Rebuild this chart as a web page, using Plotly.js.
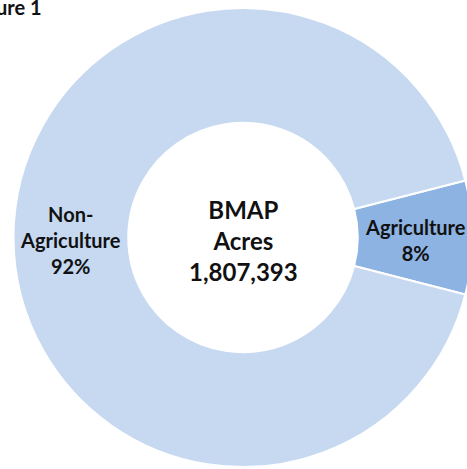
<!DOCTYPE html>
<html>
<head>
<meta charset="utf-8">
<script src="https://cdn.plot.ly/plotly-3.0.1.min.js"></script>
<style>
html, body { margin: 0; padding: 0; overflow: hidden; background: #fff; }
#chart { width: 480px; height: 469px; }
</style>
</head>
<body>
<div id="chart"></div>
<script>
// Data
const categories = ['Agriculture', 'Non-Agriculture'];
const sliceTexts = ['Agriculture', 'Non-<br>Agriculture'];
const percentValues = [8, 92];
const sliceColors = ['#8DB3E2', '#C6D9F1'];
const centerLines = ['BMAP', 'Acres', '1,807,393'];
const figureTitle = 'Figure 1';

const FONT = 'Lato, "Open Sans", sans-serif';
const W = 480, H = 469;
// pie geometry (pixels)
const cx = 243, cy = 237.5, R = 229.5, HOLE = 0.5;

const total = percentValues.reduce((a, b) => a + b, 0);
const rotation = 90 - percentValues[0] / total * 360 / 2;

const trace = {
  type: 'pie',
  labels: categories,
  values: percentValues,
  textinfo: 'none',
  hole: HOLE,
  sort: false,
  direction: 'clockwise',
  rotation: rotation,
  marker: { colors: sliceColors, line: { color: '#ffffff', width: 2 } },
  domain: { x: [(cx - R) / W, (cx + R) / W], y: [(H - cy - R) / H, (H - cy + R) / H] },
  showlegend: false,
  hoverinfo: 'label+percent'
};

// slice label annotations at mid-ring radius, slice mid-angle
const labelAnns = [];
let start = rotation;
const rMid = R * (1 + HOLE) / 2;
percentValues.forEach((v, i) => {
  const span = v / total * 360;
  const mid = (start + span / 2) * Math.PI / 180; // clockwise from 12 o'clock
  start += span;
  const px = cx + rMid * Math.sin(mid);
  const py = cy - rMid * Math.cos(mid) + 2;
  labelAnns.push({
    text: sliceTexts[i] + '<br>' + Math.round(v / total * 100) + '%',
    x: px / W, y: 1 - py / H,
    xref: 'paper', yref: 'paper',
    xanchor: 'center', yanchor: 'middle',
    showarrow: false,
    font: { family: FONT, size: 20, color: '#111', weight: 700 }
  });
});

const layout = {
  width: W,
  height: H,
  margin: { l: 0, r: 0, t: 0, b: 0 },
  paper_bgcolor: '#ffffff',
  annotations: labelAnns.concat([
    {
      text: centerLines.join('<br>'),
      x: cx / W, y: 1 - 240 / H,
      xref: 'paper', yref: 'paper',
      xanchor: 'center', yanchor: 'middle',
      showarrow: false,
      font: { family: FONT, size: 24, color: '#111', weight: 700 }
    },
    {
      text: figureTitle,
      x: 44 / W, y: 1 - 7 / H,
      xref: 'paper', yref: 'paper',
      xanchor: 'right', yanchor: 'middle',
      showarrow: false,
      font: { family: FONT, size: 20, color: '#111', weight: 700 }
    }
  ])
};

Plotly.newPlot('chart', [trace], layout, { displayModeBar: false, staticPlot: true });
</script>
</body>
</html>
